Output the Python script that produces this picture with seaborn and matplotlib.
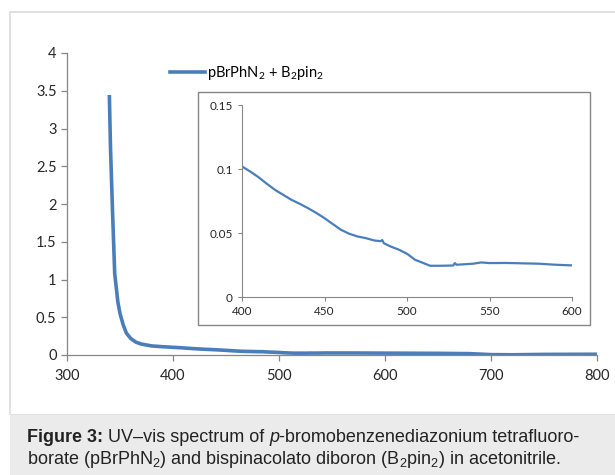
import pandas as pd
import seaborn as sns
import matplotlib.pyplot as plt
import matplotlib.ticker as mticker
from matplotlib.patches import Rectangle

# absorbance (nm, a.u.)
wavelength = [340, 341, 343, 345, 348, 350, 353, 356, 360, 365, 370, 380, 390,
              400, 405, 410, 415, 420, 425, 430, 435, 440, 445, 450, 455, 460,
              465, 470, 475, 480, 484, 485, 486, 490, 495, 500, 505, 510, 514,
              520, 528, 529, 530, 540, 545, 550, 560, 570, 580, 590, 600,
              650, 680, 700, 720, 750, 800]
absorbance = [3.42, 2.76, 1.88, 1.08, 0.70, 0.55, 0.40, 0.29, 0.22, 0.17, 0.145, 0.12, 0.11,
              0.102, 0.098, 0.0936, 0.0885, 0.0837, 0.0798, 0.0759, 0.0728, 0.0694, 0.0657, 0.0616, 0.057, 0.0525,
              0.0494, 0.0473, 0.046, 0.0442, 0.0436, 0.0445, 0.042, 0.0395, 0.037, 0.0338, 0.029, 0.0265, 0.0244,
              0.0244, 0.0246, 0.0265, 0.0252, 0.026, 0.027, 0.0265, 0.0266, 0.0263, 0.026, 0.0252, 0.0247,
              0.022, 0.018, 0.005, 0.003, 0.008, 0.01]
main_xticks = [300, 400, 500, 600, 700, 800]
main_yticks = [0, 0.5, 1, 1.5, 2, 2.5, 3, 3.5, 4]
inset_xticks = [400, 450, 500, 550, 600]
inset_yticks = [0, 0.05, 0.1, 0.15]
series_label = "pBrPhN$_2$ + B$_2$pin$_2$"

df = pd.DataFrame({"wl": wavelength, "abs": absorbance, "s": series_label})
df_in = df[(df.wl >= 400) & (df.wl <= 600)]

plt.rcParams["font.family"] = ["Lato", "DejaVu Sans"]
plt.rcParams["mathtext.default"] = "regular"

blue = "#4a7ebb"
grey = "#868686"
txt = "#262626"

fig = plt.figure(figsize=(6.15, 4.75), dpi=100)

# outer light frame + caption box
fig.patches.append(Rectangle((10/615, 60/475), 1.0, 1 - 12/475 - 60/475, transform=fig.transFigure,
                             fill=False, edgecolor="#dcdcdc", lw=1.2))
fig.patches.append(Rectangle((10/615, 0), 1.0, 60/475, transform=fig.transFigure,
                             facecolor="#ebebeb", edgecolor="none"))

ax = fig.add_axes([67/615, 120/475, 530/615, 302/475])
sns.lineplot(data=df, x="wl", y="abs", hue="s", palette=[blue], linewidth=2.6, ax=ax)
ax.set_xlim(300, 800)
ax.set_ylim(0, 4)
ax.set_xticks(main_xticks)
ax.set_yticks(main_yticks)
ax.yaxis.set_major_formatter(mticker.FormatStrFormatter("%g"))
ax.set_xlabel("")
ax.set_ylabel("")
for s in ["top", "right"]:
    ax.spines[s].set_visible(False)
for s in ["left", "bottom"]:
    ax.spines[s].set_color(grey)
    ax.spines[s].set_linewidth(0.9)
ax.tick_params(direction="out", length=4, width=0.9, color=grey, labelcolor=txt, labelsize=10.5)
ax.tick_params(axis="x", pad=6)
ax.legend(loc="center left", bbox_to_anchor=(157/615, 1 - 73/475), bbox_transform=fig.transFigure,
          frameon=False, fontsize=10.5, handlelength=2.4, handletextpad=0.1)

# inset
fig.patches.append(Rectangle((198/615, 1 - 325/475), 392/615, 233/475, transform=fig.transFigure,
                             facecolor="white", edgecolor=grey, lw=1.0, zorder=2))
axi = fig.add_axes([242/615, 1 - 297/475, 330/615, 192/475], zorder=3)
sns.lineplot(data=df_in, x="wl", y="abs", color=blue, linewidth=1.6, ax=axi)
axi.set_xlim(400, 600)
axi.set_ylim(0, 0.15)
axi.set_xticks(inset_xticks)
axi.set_yticks(inset_yticks)
axi.yaxis.set_major_formatter(mticker.FormatStrFormatter("%g"))
axi.set_xlabel("")
axi.set_ylabel("")
for s in ["top", "right"]:
    axi.spines[s].set_visible(False)
for s in ["left", "bottom"]:
    axi.spines[s].set_color(grey)
    axi.spines[s].set_linewidth(0.8)
axi.tick_params(direction="out", length=3, width=0.8, color=grey, labelcolor=txt, labelsize=8.5)

# caption, written piece by piece so bold / italic sit inline
renderer = fig.canvas.get_renderer()


def caption_line(x, y, parts):
    for text, weight, style in parts:
        t = fig.text(x, y, text, family="Liberation Sans", fontsize=13, color="#222222",
                     weight=weight, style=style, va="center")
        bb = t.get_window_extent(renderer)
        x += bb.width / fig.bbox.width


caption_line(27/615, 1 - 437/475, [("Figure 3:", "bold", "normal"),
                                    (" UV–vis spectrum of ", "normal", "normal"),
                                    ("p", "normal", "italic"),
                                    ("-bromobenzenediazonium tetrafluoro-", "normal", "normal")])
caption_line(27/615, 1 - 460/475, [("borate (pBrPhN$_2$) and bispinacolato diboron (B$_2$pin$_2$) in acetonitrile.",
                                    "normal", "normal")])

fig.savefig("out.png", dpi=100)
